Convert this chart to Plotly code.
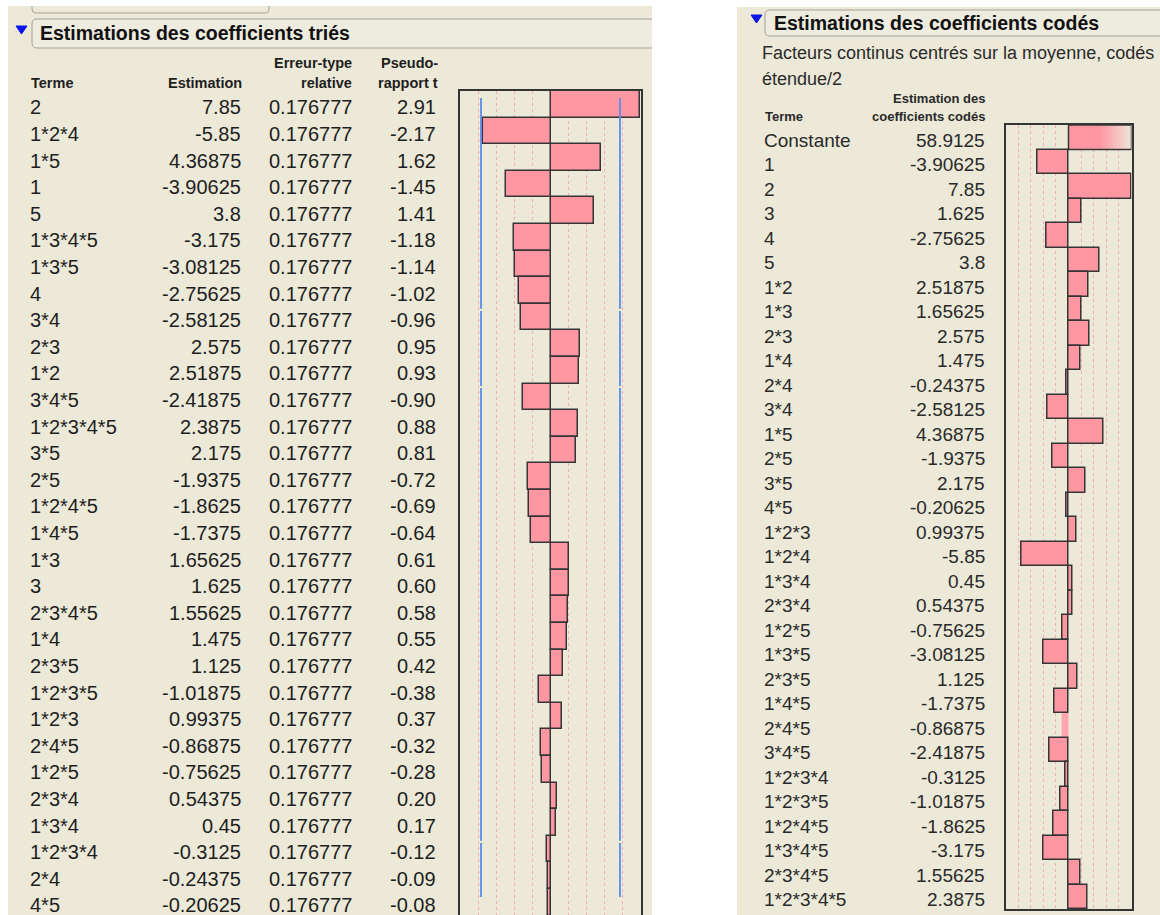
import plotly.graph_objects as go

W, H = 1160, 915

# ---------------- data : sorted estimates (left table) ----------------
sorted_terms = ["2", "1*2*4", "1*5", "1", "5", "1*3*4*5", "1*3*5", "4", "3*4", "2*3",
                "1*2", "3*4*5", "1*2*3*4*5", "3*5", "2*5", "1*2*4*5", "1*4*5", "1*3", "3",
                "2*3*4*5", "1*4", "2*3*5", "1*2*3*5", "1*2*3", "2*4*5", "1*2*5", "2*3*4",
                "1*3*4", "1*2*3*4", "2*4", "4*5"]
sorted_estimates = [7.85, -5.85, 4.36875, -3.90625, 3.8, -3.175, -3.08125, -2.75625, -2.58125,
                    2.575, 2.51875, -2.41875, 2.3875, 2.175, -1.9375, -1.8625, -1.7375, 1.65625,
                    1.625, 1.55625, 1.475, 1.125, -1.01875, 0.99375, -0.86875, -0.75625, 0.54375,
                    0.45, -0.3125, -0.24375, -0.20625]
relative_std_error = 0.176777
sorted_pseudo_t = [2.91, -2.17, 1.62, -1.45, 1.41, -1.18, -1.14, -1.02, -0.96, 0.95, 0.93, -0.90,
                   0.88, 0.81, -0.72, -0.69, -0.64, 0.61, 0.60, 0.58, 0.55, 0.42, -0.38, 0.37,
                   -0.32, -0.28, 0.20, 0.17, -0.12, -0.09, -0.08]
t_axis_limit = 2.93
t_critical = 2.25

# ---------------- data : coded estimates (right table) ----------------
coded_terms = ["Constante", "1", "2", "3", "4", "5", "1*2", "1*3", "2*3", "1*4", "2*4", "3*4",
               "1*5", "2*5", "3*5", "4*5", "1*2*3", "1*2*4", "1*3*4", "2*3*4", "1*2*5", "1*3*5",
               "2*3*5", "1*4*5", "2*4*5", "3*4*5", "1*2*3*4", "1*2*3*5", "1*2*4*5", "1*3*4*5",
               "2*3*4*5", "1*2*3*4*5"]
coded_estimates = [58.9125, -3.90625, 7.85, 1.625, -2.75625, 3.8, 2.51875, 1.65625, 2.575, 1.475,
                   -0.24375, -2.58125, 4.36875, -1.9375, 2.175, -0.20625, 0.99375, -5.85, 0.45,
                   0.54375, -0.75625, -3.08125, 1.125, -1.7375, -0.86875, -2.41875, -0.3125,
                   -1.01875, -1.8625, -3.175, 1.55625, 2.3875]
coded_axis_limit = 7.85

# ---------------- styles ----------------
BEIGE = "#ECE9D8"
PINK = "#FF97A3"
EDGE = "#353535"
GRID = "#F3AABA"
BLUE = "#5A8CF0"
TXT = "#1E1E1E"
TXT_R = "#2A2A2A"
FONT = "Liberation Sans, Arial, sans-serif"


def fx(x):
    return x / W


def fy(y):
    return 1 - y / H


L_TOP, L_ROW = 91, 26.6
R_TOP, R_ROW = 125, 24.5
R_BOTTOM = R_TOP + R_ROW * len(coded_terms)
left_rows = list(range(len(sorted_terms)))
right_rows = list(range(len(coded_terms)))
left_ybottom = (H - L_TOP) / L_ROW - 0.5

fig = go.Figure()

# left bars (pseudo t)
fig.add_trace(go.Bar(x=sorted_pseudo_t, y=left_rows, orientation="h", width=1,
                     marker=dict(color=PINK, line=dict(color=EDGE, width=1.5)),
                     xaxis="x", yaxis="y", hoverinfo="skip"))

# critical value lines (with the small rendering gaps of the original)
gaps = [(-0.24, 7.69), (7.77, 10.59), (10.67, 27.69), (27.77, 29.8)]
for sign in (-1, 1):
    xs, ys = [], []
    for a, b in gaps:
        xs += [sign * t_critical, sign * t_critical, None]
        ys += [a, b, None]
    fig.add_trace(go.Scatter(x=xs, y=ys, mode="lines", line=dict(color=BLUE, width=1.8),
                             xaxis="x", yaxis="y", hoverinfo="skip"))

# right bars (coded estimates) ; constant drawn separately (clipped, faded)
line_w = [0 if t == "2*4*5" else 1.5 for t in coded_terms[1:]]
fills = ["#FFA6B0" if t == "2*4*5" else PINK for t in coded_terms[1:]]
fig.add_trace(go.Bar(x=coded_estimates[1:], y=right_rows[1:], orientation="h", width=1,
                     marker=dict(color=fills, line=dict(color=EDGE, width=line_w)),
                     xaxis="x2", yaxis="y2", hoverinfo="skip"))
cx = min(coded_estimates[0], coded_axis_limit)
fig.add_trace(go.Scatter(x=[0, cx, cx, 0, 0], y=[-0.5, -0.5, 0.5, 0.5, -0.5], mode="lines",
                         fill="toself",
                         fillgradient=dict(type="horizontal",
                                           colorscale=[[0, PINK], [0.5, PINK], [1, "#EEE5D9"]]),
                         line=dict(color=EDGE, width=1.5), xaxis="x2", yaxis="y2",
                         hoverinfo="skip"))

grid_fracs = [-0.8, -0.6, -0.4, -0.2, 0.2, 0.4, 0.6, 0.8]
common_x = dict(showticklabels=False, ticks="", showgrid=True, gridcolor=GRID, griddash="dot",
                gridwidth=1, zeroline=False, showline=True, mirror=True, linecolor=EDGE,
                linewidth=1.5)
common_y = dict(showticklabels=False, ticks="", showgrid=False, zeroline=False, showline=True,
                mirror=True, linecolor=EDGE, linewidth=1.5)

shapes = [
    # panel backgrounds
    dict(type="rect", xref="paper", yref="paper", x0=fx(8), x1=fx(652), y0=0, y1=fy(6),
         fillcolor=BEIGE, line=dict(width=0), layer="below"),
    dict(type="rect", xref="paper", yref="paper", x0=fx(737), x1=1, y0=0, y1=fy(7),
         fillcolor=BEIGE, line=dict(width=0), layer="below"),
]


def path(cmds):
    s = []
    for cmd, pts in cmds:
        s.append(cmd + " " + " ".join(f"{fx(a):.5f},{fy(b):.5f}" for a, b in pts))
    return " ".join(s).strip()


BOX_LINE = dict(color="#A3A19A", width=1)
# header boxes
shapes.append(dict(type="path", xref="paper", yref="paper", layer="below",
                   path=path([("M", [(32, 6)]), ("L", [(32, 9)]), ("Q", [(32, 13), (36, 13)]),
                              ("L", [(265, 13)]), ("Q", [(269, 13), (269, 9)]),
                              ("L", [(269, 6)])]),
                   line=BOX_LINE))
shapes.append(dict(type="path", xref="paper", yref="paper", layer="below",
                   path=path([("M", [(652, 19)]), ("L", [(37, 19)]), ("Q", [(32, 19), (32, 24)]),
                              ("L", [(32, 43)]), ("Q", [(32, 48), (37, 48)]),
                              ("L", [(652, 48)])]),
                   fillcolor="#EEEBDF", line=BOX_LINE))
shapes.append(dict(type="path", xref="paper", yref="paper", layer="below",
                   path=path([("M", [(1162, 10)]), ("L", [(770, 10)]),
                              ("Q", [(765, 10), (765, 15)]), ("L", [(765, 31)]),
                              ("Q", [(765, 36), (770, 36)]), ("L", [(1162, 36)])]),
                   fillcolor="#EEEBDF", line=BOX_LINE))
# disclosure triangles
for (x0, y0) in [(16, 26), (751, 15)]:
    shapes.append(dict(type="path", xref="paper", yref="paper",
                       path=path([("M", [(x0, y0)]), ("L", [(x0 + 11, y0)]),
                                  ("L", [(x0 + 5.5, y0 + 8)])]) + " Z",
                       fillcolor="#0A14E6", line=dict(color="#0A14E6", width=1)))

ann = []


def t_paper(text, x, y, size, anchor="left", bold=False, color=TXT):
    ann.append(dict(text=f"<b>{text}</b>" if bold else text, xref="paper", yref="paper",
                    x=fx(x), y=fy(y), xanchor=anchor, yanchor="middle", showarrow=False,
                    font=dict(family=FONT, size=size, color=color)))


# left headers
t_paper("Estimations des coefficients triés", 38, 33, 19.5, bold=True, color="#111")
t_paper("Terme", 29, 83, 14.5, bold=True)
t_paper("Estimation", 244, 83, 14.5, "right", bold=True)
t_paper("Erreur-type", 354, 63, 14.5, "right", bold=True)
t_paper("relative", 354, 83, 14.5, "right", bold=True)
t_paper("Pseudo-", 440, 63, 14.5, "right", bold=True)
t_paper("rapport t", 440, 83, 14.5, "right", bold=True)

# right headers
t_paper("Estimations des coefficients codés", 772, 23, 19.5, bold=True, color="#111")
t_paper("Facteurs continus centrés sur la moyenne, codés", 760, 53, 18, color=TXT_R)
t_paper("étendue/2", 760, 79, 18, color=TXT_R)
t_paper("Terme", 763, 117, 13, bold=True, color=TXT_R)
t_paper("Estimation des", 987, 99, 13, "right", bold=True, color=TXT_R)
t_paper("coefficients codés", 987, 117, 13, "right", bold=True, color=TXT_R)


def t_row(text, x, row, yref, size, anchor, color):
    ann.append(dict(text=text, xref="paper", yref=yref, x=fx(x), y=row, xanchor=anchor,
                    yanchor="middle", yshift=-3, showarrow=False,
                    font=dict(family=FONT, size=size, color=color)))


for i, (term, est, t) in enumerate(zip(sorted_terms, sorted_estimates, sorted_pseudo_t)):
    t_row(term, 28, left_rows[i], "y", 20, "left", TXT)
    t_row(str(est), 243, left_rows[i], "y", 20, "right", TXT)
    t_row(f"{relative_std_error:.6f}", 354, left_rows[i], "y", 20, "right", TXT)
    t_row(f"{t:.2f}", 438, left_rows[i], "y", 20, "right", TXT)

for i, (term, est) in enumerate(zip(coded_terms, coded_estimates)):
    t_row(term, 762, right_rows[i], "y2", 19, "left", TXT_R)
    t_row(str(est), 987, right_rows[i], "y2", 19, "right", TXT_R)

fig.update_layout(
    width=W, height=H, margin=dict(l=0, r=0, t=0, b=0),
    paper_bgcolor="white", plot_bgcolor="rgba(0,0,0,0)",
    showlegend=False, hovermode=False, bargap=0,
    xaxis=dict(domain=[fx(460), fx(641)], range=[-t_axis_limit, t_axis_limit],
               tickvals=[f * t_axis_limit for f in grid_fracs], anchor="y", **common_x),
    yaxis=dict(domain=[0, fy(L_TOP)], range=[left_ybottom, -0.5], anchor="x", **common_y),
    xaxis2=dict(domain=[fx(1005.5), fx(1131.5)], range=[-coded_axis_limit, coded_axis_limit],
                tickvals=[f * coded_axis_limit for f in grid_fracs], anchor="y2", **common_x),
    yaxis2=dict(domain=[fy(R_BOTTOM), fy(R_TOP)], range=[len(coded_terms) - 0.5, -0.5],
                anchor="x2", **common_y),
    shapes=shapes, annotations=ann,
)

fig.write_html("out.html", config={"displayModeBar": False},
               post_script="document.body.style.margin='0';document.body.style.overflow='hidden';")
